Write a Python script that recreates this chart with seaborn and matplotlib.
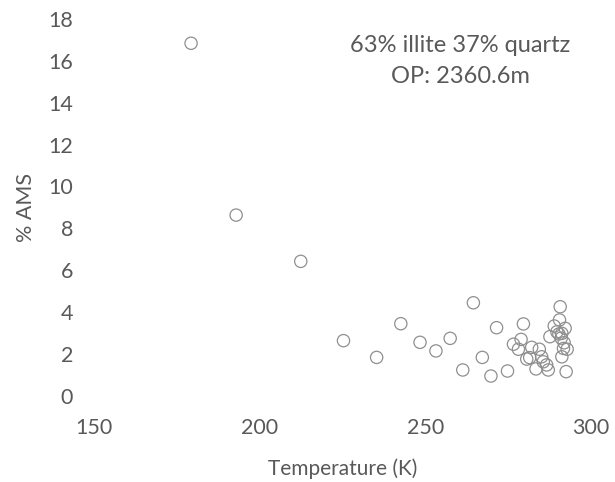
import matplotlib
matplotlib.use("Agg")
import matplotlib.pyplot as plt
import seaborn as sns
import pandas as pd

temperature = [179.3, 192.9, 212.4, 225.3, 235.3, 242.6, 248.4, 253.2, 257.5, 261.3,
               264.5, 267.2, 269.8, 271.5, 274.8, 276.6, 278.1, 278.9, 279.6, 280.6,
               281.5, 282.1, 283.4, 284.4, 285.1, 285.6, 286.6, 287.1, 287.6, 288.9,
               289.7, 290.5, 290.7, 291.2, 291.2, 291.7, 291.9, 292.2, 292.5, 292.8,
               290.3, 291.0]
ams_pct = [16.84, 8.63, 6.42, 2.63, 1.83, 3.44, 2.55, 2.14, 2.74, 1.23,
           4.44, 1.83, 0.94, 3.25, 1.18, 2.46, 2.22, 2.69, 3.43, 1.75,
           1.82, 2.31, 1.28, 2.22, 1.86, 1.62, 1.47, 1.23, 2.82, 3.33,
           3.05, 3.62, 4.25, 2.98, 1.86, 2.26, 2.53, 3.22, 1.15, 2.22,
           2.95, 2.75]

x_ticks = [150, 200, 250, 300]
y_ticks = [0, 2, 4, 6, 8, 10, 12, 14, 16, 18]
annotation = "63% illite 37% quartz\nOP: 2360.6m"

df = pd.DataFrame({"Temperature": temperature, "AMS": ams_pct})

sns.set_theme(style="white")
plt.rcParams["font.family"] = ["Lato", "DejaVu Sans"]
text_color = "#595959"

fig = plt.figure(figsize=(6.15, 4.82), dpi=100)
ax = fig.add_axes([94 / 615, 1 - 395.7 / 482, (591 - 94) / 615, (395.7 - 19) / 482])

sns.scatterplot(data=df, x="Temperature", y="AMS", ax=ax, marker="o", s=78,
                facecolor="none", edgecolor="#8f8f8f", linewidth=0.9, clip_on=False)

ax.set_xlim(150, 300)
ax.set_ylim(0, 18)
ax.set_xticks(x_ticks)
ax.set_yticks(y_ticks)
for s in ax.spines.values():
    s.set_visible(False)
ax.tick_params(axis="both", length=0, labelsize=15.5, labelcolor=text_color)
ax.tick_params(axis="x", pad=16)
ax.tick_params(axis="y", pad=15)

ax.set_xlabel("Temperature (K)", fontsize=15, color=text_color, labelpad=15)
ax.set_ylabel("% AMS", fontsize=15.5, color=text_color, labelpad=9)

ax.text(460 / 615, 1 - 61 / 482, annotation, transform=fig.transFigure,
        ha="center", va="center", fontsize=17, color=text_color, linespacing=1.6)

fig.savefig("out.png", dpi=100)
